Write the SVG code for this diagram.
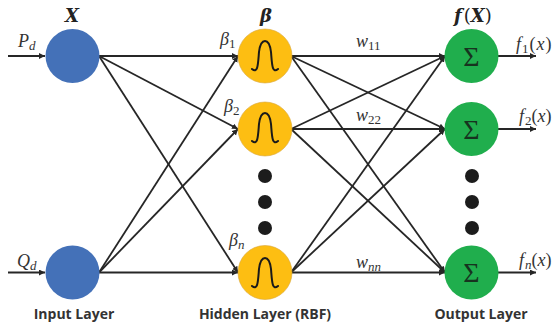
<svg xmlns="http://www.w3.org/2000/svg" width="554" height="327" viewBox="0 0 554 327">
<style>
.c{fill:none;stroke:#262626;stroke-width:1.8}
.in{fill:#4471b8}
.hid{fill:#fdbe12;stroke:#d9a63a;stroke-width:.6}
.out{fill:#20ae4d}
.g{fill:none;stroke:#1a1a1a;stroke-width:2;stroke-linejoin:round;stroke-linecap:round}
.dot{fill:#1c1c1c}
.m{font-family:"Liberation Serif",serif;font-style:italic;font-size:18px;fill:#333}
.s{font-size:13px;font-style:normal}
.si{font-size:13px}
.h{font-family:"DejaVu Serif","Liberation Serif",serif;font-style:italic;font-weight:bold;font-size:18px;fill:#222}
.l{font-family:"Open Sans","Noto Sans",sans-serif;font-weight:700;font-size:14px;fill:#333;text-anchor:middle}
.sig{font-family:"Liberation Serif",serif;font-size:28px;fill:#17331f;text-anchor:middle}
</style>
<defs>
<marker id="a" markerUnits="userSpaceOnUse" markerWidth="7" markerHeight="7" refX="6" refY="3" orient="auto"><path d="M0 0L6 3L0 6Z" fill="#262626"/></marker>
<path id="gs" class="g" d="M-13 13C-7 18 -7 8 -6 -4C-5 -12 -3 -15 0 -15C3 -15 5 -12 6 -4C7 8 7 18 13 13"/>
</defs>
<g id="connectors">
<path class="c" marker-end="url(#a)" d="M8 56H45"/>
<path class="c" marker-end="url(#a)" d="M8 272.500H45"/>
<path class="c" marker-end="url(#a)" d="M99 56L238 56"/>
<path class="c" marker-end="url(#a)" d="M99 56L238 129"/>
<path class="c" marker-end="url(#a)" d="M99 56L238 272.500"/>
<path class="c" marker-end="url(#a)" d="M99 272.500L238 56"/>
<path class="c" marker-end="url(#a)" d="M99 272.500L238 129"/>
<path class="c" marker-end="url(#a)" d="M99 272.500L238 272.500"/>
<path class="c" marker-end="url(#a)" d="M291 56L445 56"/>
<path class="c" marker-end="url(#a)" d="M291 56L445 129"/>
<path class="c" marker-end="url(#a)" d="M291 56L445 272.500"/>
<path class="c" marker-end="url(#a)" d="M291 129L445 56"/>
<path class="c" marker-end="url(#a)" d="M291 129L445 129"/>
<path class="c" marker-end="url(#a)" d="M291 129L445 272.500"/>
<path class="c" marker-end="url(#a)" d="M291 272.500L445 56"/>
<path class="c" marker-end="url(#a)" d="M291 272.500L445 129"/>
<path class="c" marker-end="url(#a)" d="M291 272.500L445 272.500"/>
<path class="c" marker-end="url(#a)" d="M498 56H536"/>
<path class="c" marker-end="url(#a)" d="M498 129H536"/>
<path class="c" marker-end="url(#a)" d="M498 272.500H536"/>
</g>
<g id="input-p"><circle class="in" cx="72.500" cy="56" r="27"/></g>
<g id="input-q"><circle class="in" cx="72.500" cy="272.500" r="27"/></g>
<g id="hidden-1"><circle class="hid" cx="265" cy="56" r="27"/><use href="#gs" x="265" y="56"/></g>
<g id="hidden-2"><circle class="hid" cx="265" cy="129" r="27"/><use href="#gs" x="265" y="128"/></g>
<g id="hidden-n"><circle class="hid" cx="265" cy="272.500" r="27"/><use href="#gs" x="265" y="273"/></g>
<g id="output-1"><circle class="out" cx="471.500" cy="56" r="27"/><text class="sig" x="471.500" y="65.500">Σ</text></g>
<g id="output-2"><circle class="out" cx="471.500" cy="129" r="27"/><text class="sig" x="471.500" y="138.500">Σ</text></g>
<g id="output-n"><circle class="out" cx="471.500" cy="272.500" r="27"/><text class="sig" x="471.500" y="282">Σ</text></g>
<g id="dots-hidden"><circle class="dot" cx="265" cy="176" r="7"/><circle class="dot" cx="265" cy="202" r="7"/><circle class="dot" cx="265" cy="228" r="7"/></g>
<g id="dots-output"><circle class="dot" cx="472" cy="176" r="7"/><circle class="dot" cx="472" cy="202" r="7"/><circle class="dot" cx="472" cy="228" r="7"/></g>
<g id="labels">
<text class="h" x="65" y="22">X</text>
<text class="h" x="260" y="22">β</text>
<text class="h" x="454" y="22">f<tspan font-style="normal" font-weight="normal" dx="2">(</tspan>X<tspan font-style="normal" font-weight="normal">)</tspan></text>
<text class="m" x="18" y="47">P<tspan class="si" dy="3">d</tspan></text>
<text class="m" x="17" y="267">Q<tspan class="si" dy="3">d</tspan></text>
<text class="m" x="220" y="45">β<tspan class="s" dy="3">1</tspan></text>
<text class="m" x="224" y="112">β<tspan class="s" dy="3">2</tspan></text>
<text class="m" x="229" y="246">β<tspan class="si" dy="3">n</tspan></text>
<text class="m" x="356" y="47">w<tspan class="s" dy="3">11</tspan></text>
<text class="m" x="356" y="121">w<tspan class="s" dy="3">22</tspan></text>
<text class="m" x="356" y="268">w<tspan class="si" dy="3">nn</tspan></text>
<text class="m" x="516" y="50">f<tspan class="s" dy="3" dx="1">1</tspan><tspan dy="-3" dx="1" font-style="normal">(</tspan><tspan dx="1">x</tspan><tspan dx="1" font-style="normal">)</tspan></text>
<text class="m" x="519" y="122">f<tspan class="s" dy="3" dx="1">2</tspan><tspan dy="-3" font-style="normal">(</tspan>x<tspan font-style="normal">)</tspan></text>
<text class="m" x="519" y="266">f<tspan class="si" dy="3" dx="1">n</tspan><tspan dy="-3" font-style="normal">(</tspan>x<tspan font-style="normal">)</tspan></text>
<text class="l" x="74" y="319">Input Layer</text>
<text class="l" x="265" y="319">Hidden Layer (RBF)</text>
<text class="l" x="481" y="319">Output Layer</text>
</g>
</svg>
